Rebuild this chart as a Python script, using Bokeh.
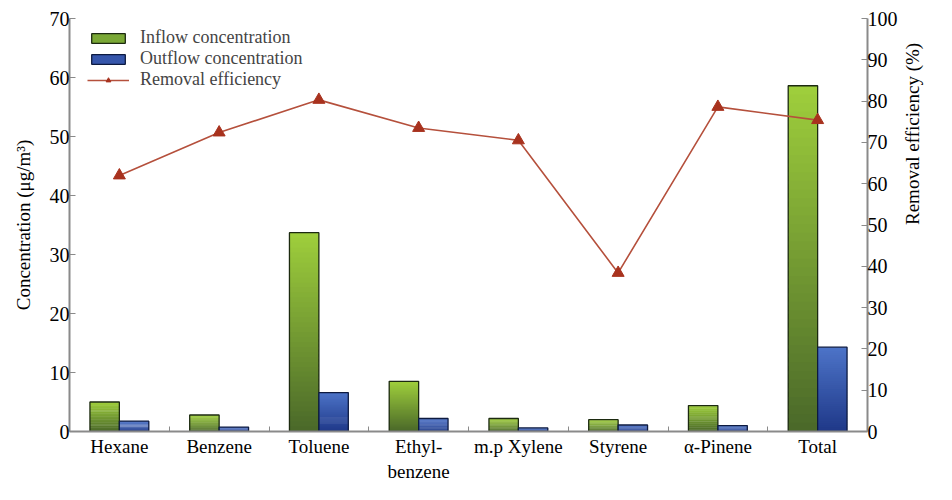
import numpy as np
from bokeh.plotting import figure
from bokeh.models import Range1d, LinearAxis, FixedTicker, Legend, LegendItem
from bokeh.embed import file_html
from bokeh.resources import INLINE

# ---- data ----
categories = ["Hexane", "Benzene", "Toluene", "Ethyl-\nbenzene", "m.p Xylene", "Styrene", "α-Pinene", "Total"]
inflow = [5.0, 2.8, 33.7, 8.5, 2.2, 2.0, 4.4, 58.6]
outflow = [1.75, 0.75, 6.6, 2.2, 0.6, 1.1, 1.0, 14.3]
efficiency = [62.0, 72.4, 80.3, 73.5, 70.5, 38.4, 78.6, 75.4]
conc_ticks = [0, 10, 20, 30, 40, 50, 60, 70]
eff_ticks = [0, 10, 20, 30, 40, 50, 60, 70, 80, 90, 100]

FONT = "Liberation Serif"
AXIS_COLOR = "#8a8a8a"

x = list(range(len(categories)))
W = 0.295

p = figure(width=936, height=484, output_backend="svg", toolbar_location=None,
           x_range=Range1d(-0.5, len(categories) - 0.5), y_range=Range1d(0, 70),
           min_border_left=69, min_border_right=66, min_border_top=18, min_border_bottom=50)
p.extra_y_ranges = {"eff": Range1d(0, 100)}
p.outline_line_color = None
p.grid.visible = False
p.background_fill_color = "white"
p.border_fill_color = "white"


def hex2rgb(h):
    h = h.lstrip("#")
    return tuple(int(h[i:i + 2], 16) for i in (0, 2, 4))


def blend(c_top, c_bot, t):
    a, b = hex2rgb(c_top), hex2rgb(c_bot)
    return "#%02x%02x%02x" % tuple(int(round(a[i] * (1 - t) + b[i] * t)) for i in range(3))


def gradient_bars(xs, vals, offset, c_top, c_bot, outline, n=40):
    L, R, B, T, C = [], [], [], [], []
    for k in range(n):
        for xi, v in zip(xs, vals):
            L.append(xi + offset)
            R.append(xi + offset + W)
            B.append(v * k / n)
            T.append(min(v, v * (k + 1.6) / n))
            C.append(blend(c_top, c_bot, 1 - (k + 0.5) / n))
    p.quad(left=L, right=R, bottom=B, top=T, fill_color=C, line_color=None)
    p.quad(left=[xi + offset for xi in xs], right=[xi + offset + W for xi in xs],
           bottom=[0] * len(xs), top=vals, fill_color=None, line_color=outline, line_width=1.3)


gradient_bars(x, inflow, -W, "#9fcf3c", "#4a6829", "#1c2a10")
gradient_bars(x, outflow, 0.0, "#4d74c8", "#1f3888", "#0d1a40")

line_r = p.line(x, efficiency, y_range_name="eff", line_color="#b5503c", line_width=1.6)
mark_r = p.scatter(x, efficiency, y_range_name="eff", marker="triangle", size=12,
                   fill_color="#a8321e", line_color="#a8321e")

# legend proxies (not drawn in the plot: NaN coordinates)
nan = [float("nan")]
leg_in = p.quad(left=nan, right=nan, bottom=nan, top=nan, fill_color="#7aa836",
                line_color="#1c2a10", line_width=1.3)
leg_out = p.quad(left=nan, right=nan, bottom=nan, top=nan, fill_color="#3656ab",
                 line_color="#0d1a40", line_width=1.3)

legend = Legend(items=[LegendItem(label="Inflow concentration", renderers=[leg_in]),
                       LegendItem(label="Outflow concentration", renderers=[leg_out]),
                       LegendItem(label="Removal efficiency", renderers=[line_r, mark_r])],
                location=(18, 341), margin=0, padding=4, spacing=0, label_standoff=11,
                label_height=21, glyph_width=42, glyph_height=12,
                label_text_font=FONT, label_text_font_size="18px",
                border_line_color=None, background_fill_alpha=0)
p.add_layout(legend)

# x axis
xa = p.xaxis[0]
xa.ticker = FixedTicker(ticks=x, minor_ticks=[i + 0.5 for i in x[:-1]])
xa.major_label_overrides = {i: c for i, c in enumerate(categories)}
xa.major_tick_in = 0
xa.major_tick_out = 0
xa.minor_tick_in = 5
xa.minor_tick_out = 0
xa.minor_tick_line_color = AXIS_COLOR
xa.axis_line_color = AXIS_COLOR
xa.axis_line_width = 2
xa.major_label_text_font = FONT
xa.major_label_text_font_size = "19px"
xa.major_label_text_color = "black"
xa.major_label_standoff = 4


def style_y(ax):
    ax.major_tick_in = 6
    ax.major_tick_out = 0
    ax.minor_tick_line_color = None
    ax.major_tick_line_color = AXIS_COLOR
    ax.axis_line_color = AXIS_COLOR
    ax.axis_line_width = 2
    ax.major_label_text_font = FONT
    ax.major_label_text_font_size = "20px"
    ax.major_label_text_color = "black"
    ax.major_label_standoff = 0
    ax.axis_label_text_font = FONT
    ax.axis_label_text_font_size = "19px"
    ax.axis_label_text_font_style = "normal"
    ax.axis_label_text_color = "black"


ya = p.yaxis[0]
ya.ticker = FixedTicker(ticks=conc_ticks)
ya.axis_label = "Concentration (μg/m³)"
style_y(ya)
ya.axis_label_standoff = 13

ra = LinearAxis(y_range_name="eff", ticker=FixedTicker(ticks=eff_ticks),
                axis_label="Removal efficiency (%)")
style_y(ra)
ra.axis_label_standoff = 12
ra.axis_label_orientation = np.pi / 2
p.add_layout(ra, "right")

open("out.html", "w").write(file_html(p, INLINE))
